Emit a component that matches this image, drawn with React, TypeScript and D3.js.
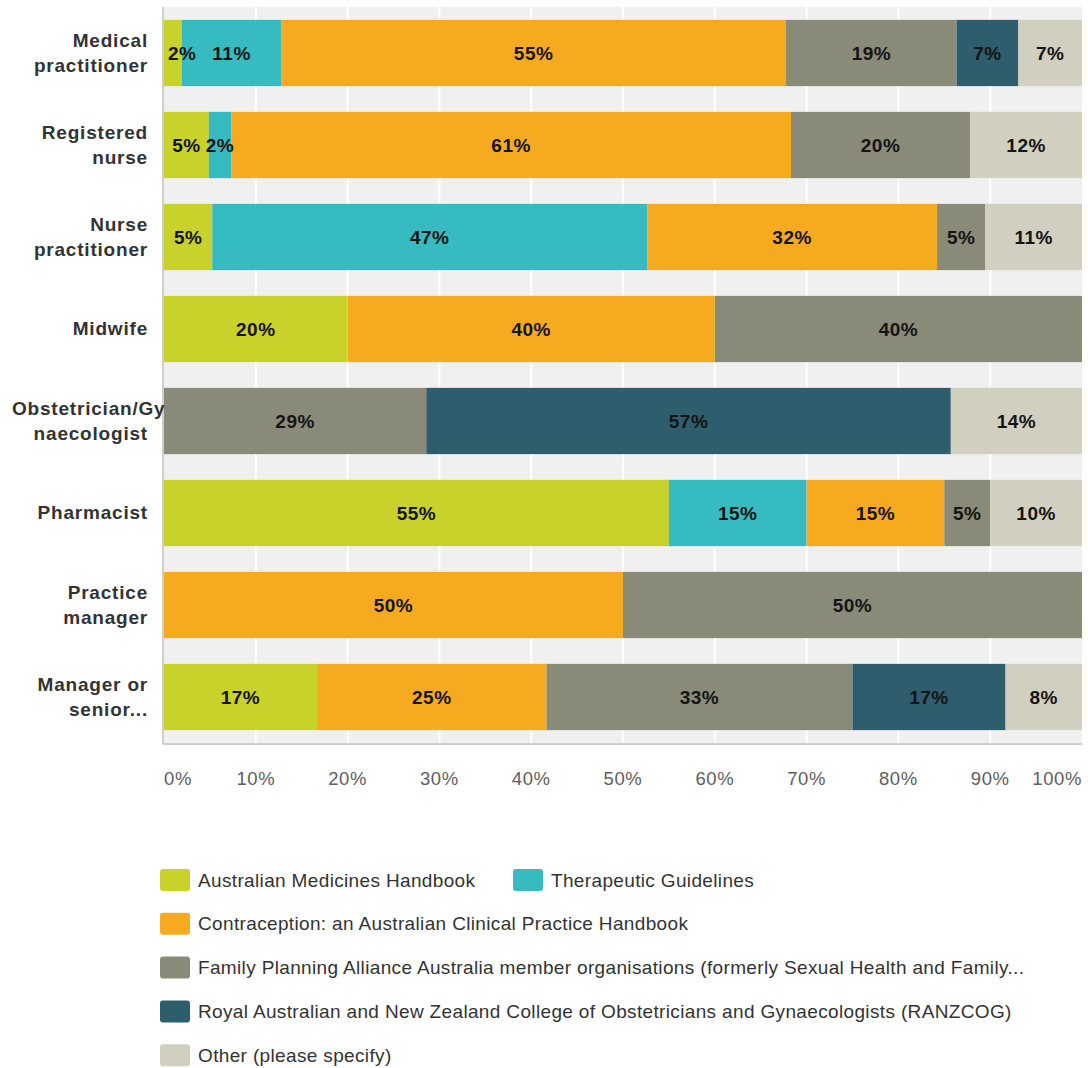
import React from "react";
import * as d3 from "d3";

const categories = [
  "Medical practitioner",
  "Registered nurse",
  "Nurse practitioner",
  "Midwife",
  "Obstetrician/Gynaecologist",
  "Pharmacist",
  "Practice manager",
  "Manager or senior...",
];
const categoryLines = [
  ["Medical", "practitioner"],
  ["Registered", "nurse"],
  ["Nurse", "practitioner"],
  ["Midwife"],
  ["Obstetrician/Gy", "naecologist"],
  ["Pharmacist"],
  ["Practice", "manager"],
  ["Manager or", "senior..."],
];

const seriesNames = [
  "Australian Medicines Handbook",
  "Therapeutic Guidelines",
  "Contraception: an Australian Clinical Practice Handbook",
  "Family Planning Alliance Australia member organisations (formerly Sexual Health and Family...",
  "Royal Australian and New Zealand College of Obstetricians and Gynaecologists (RANZCOG)",
  "Other (please specify)",
];
const seriesColors = ["#c9d22a", "#36bcc0", "#f6aa1f", "#8a8a78", "#2e5e6d", "#d1cfbf"];

const amh = [1.96, 4.88, 5.26, 20, 0, 55, 0, 16.67];
const therapeutic = [10.8, 2.44, 47.37, 0, 0, 15, 0, 0];
const contraception = [55.0, 60.98, 31.58, 40, 0, 15, 50, 25];
const fpaa = [18.6, 19.51, 5.26, 40, 28.57, 5, 50, 33.33];
const ranzcog = [6.7, 0, 0, 0, 57.14, 0, 0, 16.67];
const other = [6.94, 12.2, 10.53, 0, 14.29, 10, 0, 8.33];
const seriesValues = [amh, therapeutic, contraception, fpaa, ranzcog, other];

const xTicks = [0, 10, 20, 30, 40, 50, 60, 70, 80, 90, 100];

const FONT = "'Liberation Sans', Arial, Helvetica, sans-serif";

function measure(text: string, font: string, ls: number): number {
  if (typeof document === "undefined") return text.length * 10;
  const c = document.createElement("canvas");
  const ctx = c.getContext("2d");
  if (!ctx) return text.length * 10;
  ctx.font = font;
  return ctx.measureText(text).width + ls * text.length;
}

export default function App() {
  const W = 1088;
  const H = 1068;
  const left = 164;
  const right = 1082;
  const top = 7;
  const bottom = 743;

  const x = d3.scaleLinear().domain([0, 100]).range([left, right]);
  const y = d3
    .scaleBand<string>()
    .domain(categories)
    .range([top, bottom])
    .paddingInner(0.28)
    .paddingOuter(0.14);

  const rows = categories.map((cat, i) => {
    const obj: any = { cat };
    seriesNames.forEach((s, k) => (obj[s] = seriesValues[k][i]));
    return obj;
  });
  const stacked = d3.stack<any>().keys(seriesNames)(rows);

  const labelLS = 0.8;
  const valueLS = 0.5;
  const labelFont = `bold 19px ${FONT}`;
  const valueFont = `bold 19px ${FONT}`;

  const legendRows = [[0, 1], [2], [3], [4], [5]];
  const legendY0 = 880;
  const legendStep = 43.8;
  const legendX = [160, 513];

  return (
    <div style={{ position: "absolute", left: 0, top: 0, width: W, height: H, background: "#fff" }}>
      <svg width={W} height={H} style={{ display: "block" }}>
        <rect x={0} y={0} width={W} height={H} fill="#ffffff" />
        <rect x={left} y={top} width={right - left} height={bottom - top} fill="#f0f0f0" />
        {xTicks.slice(1, -1).map((t) => (
          <line key={t} x1={x(t)} x2={x(t)} y1={top} y2={bottom} stroke="#ffffff" strokeWidth={2} />
        ))}
        {stacked.map((layer, k) => (
          <g key={seriesNames[k]} fill={seriesColors[k]}>
            {layer.map((d, i) => {
              const v = d[1] - d[0];
              if (v <= 0) return null;
              return (
                <rect
                  key={i}
                  x={x(d[0])}
                  y={y(categories[i])}
                  width={x(d[1]) - x(d[0])}
                  height={y.bandwidth()}
                />
              );
            })}
          </g>
        ))}
        {stacked.map((layer, k) => (
          <g key={"l" + k}>
            {layer.map((d, i) => {
              const v = d[1] - d[0];
              if (v <= 0) return null;
              const txt = Math.round(v) + "%";
              const w = measure(txt, valueFont, valueLS);
              const cx = Math.max((x(d[0]) + x(d[1])) / 2, x(0) + 4 + w / 2);
              const cy = (y(categories[i]) as number) + y.bandwidth() / 2;
              return (
                <text
                  key={i}
                  x={cx}
                  y={cy + 7}
                  textAnchor="middle"
                  fontFamily={FONT}
                  fontWeight="bold"
                  fontSize={19}
                  letterSpacing={valueLS}
                  fill="#141414"
                >
                  {txt}
                </text>
              );
            })}
          </g>
        ))}
        <line x1={left - 1} x2={left - 1} y1={top} y2={bottom + 1} stroke="#cfcfcf" strokeWidth={2} />
        <line x1={left - 1} x2={right} y1={bottom + 1} y2={bottom + 1} stroke="#cfcfcf" strokeWidth={2} />
        {categories.map((cat, i) => {
          const lines = categoryLines[i];
          const cy = (y(cat) as number) + y.bandwidth() / 2;
          const lh = 25;
          const first = cy + 6 - ((lines.length - 1) * lh) / 2;
          return (
            <g key={cat}>
              {lines.map((ln, j) => {
                const w = measure(ln, labelFont, labelLS);
                const anchorEnd = 148;
                const overflow = anchorEnd - w < 10;
                return (
                  <text
                    key={j}
                    x={overflow ? 12 : anchorEnd}
                    y={first + j * lh}
                    textAnchor={overflow ? "start" : "end"}
                    fontFamily={FONT}
                    fontWeight="bold"
                    fontSize={19}
                    letterSpacing={labelLS}
                    fill="#333333"
                  >
                    {ln}
                  </text>
                );
              })}
            </g>
          );
        })}
        {xTicks.map((t, i) => (
          <text
            key={t}
            x={x(t)}
            y={785}
            textAnchor={i === 0 ? "start" : i === xTicks.length - 1 ? "end" : "middle"}
            fontFamily={FONT}
            fontSize={18.5}
            letterSpacing={0.6}
            fill="#5e5e5e"
          >
            {t + "%"}
          </text>
        ))}
        {legendRows.map((row, r) =>
          row.map((k, c) => {
            const cy = legendY0 + r * legendStep;
            const lx = legendX[c];
            return (
              <g key={k}>
                <rect x={lx} y={cy - 11} width={30} height={22} rx={3} fill={seriesColors[k]} />
                <text
                  x={lx + 38}
                  y={cy + 6.5}
                  fontFamily={FONT}
                  fontSize={19}
                  letterSpacing={0.35}
                  fill="#333333"
                >
                  {seriesNames[k]}
                </text>
              </g>
            );
          })
        )}
      </svg>
    </div>
  );
}
